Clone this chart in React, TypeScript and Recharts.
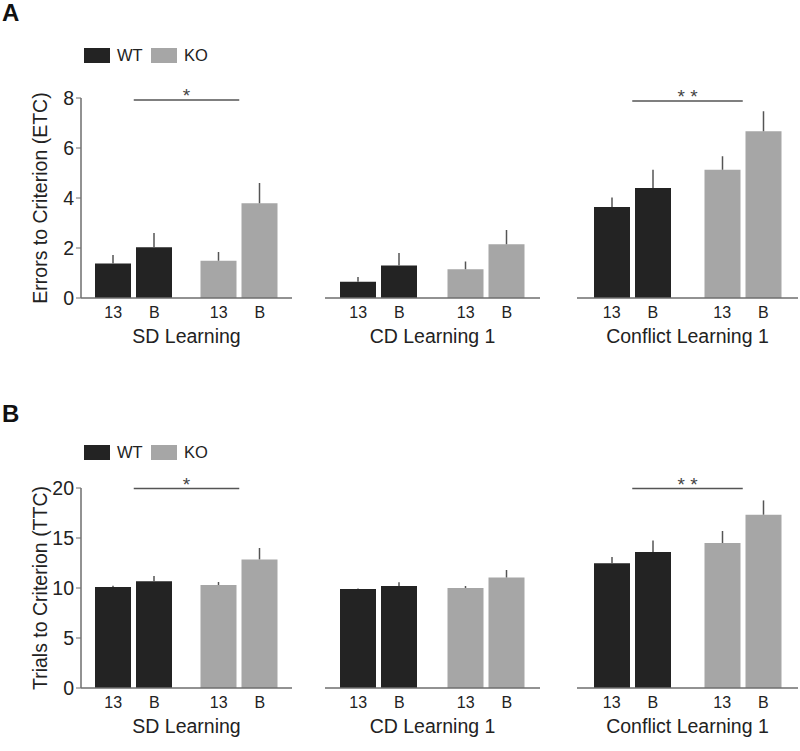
import { BarChart, Bar, XAxis, YAxis, Cell, ErrorBar, ReferenceLine, Label } from "recharts";

const FONT = '"Liberation Sans", Arial, sans-serif';
const WT_COLOR = "#232323";
const KO_COLOR = "#a6a6a6";
const AXIS_COLOR = "#6e6e6e";
const ERR_COLOR = "#555555";
const TEXT_COLOR = "#222222";

const BAR_SIZE = 36;
const BAR_GAP = 5;

const groups = ["WT", "KO"];
const groupColors = [WT_COLOR, KO_COLOR];

// Panel A: errors to criterion (ETC), [WT, KO]
const etcSD13 = [1.38, 1.49];
const etcSDB = [2.03, 3.79];
const etcSD13Err = [0.34, 0.35];
const etcSDBErr = [0.57, 0.81];

const etcCD13 = [0.65, 1.15];
const etcCDB = [1.3, 2.15];
const etcCD13Err = [0.19, 0.31];
const etcCDBErr = [0.5, 0.57];

const etcCF13 = [3.64, 5.13];
const etcCFB = [4.4, 6.67];
const etcCF13Err = [0.38, 0.54];
const etcCFBErr = [0.73, 0.8];

const etcTicks = [0, 2, 4, 6, 8];

// Panel B: trials to criterion (TTC), [WT, KO]
const ttcSD13 = [10.1, 10.3];
const ttcSDB = [10.67, 12.86];
const ttcSD13Err = [0.12, 0.3];
const ttcSDBErr = [0.53, 1.14];

const ttcCD13 = [9.9, 10.0];
const ttcCDB = [10.2, 11.05];
const ttcCD13Err = [0.05, 0.2];
const ttcCDBErr = [0.37, 0.75];

const ttcCF13 = [12.48, 14.5];
const ttcCFB = [13.6, 17.33];
const ttcCF13Err = [0.62, 1.2];
const ttcCFBErr = [1.16, 1.43];

const ttcTicks = [0, 5, 10, 15, 20];

function PairTick({ x, y }: any) {
  const d = (BAR_SIZE + BAR_GAP) / 2;
  return (
    <g>
      <text x={x - d} y={y + 19.5} textAnchor="middle" fontSize={16} fill={TEXT_COLOR} fontFamily={FONT}>
        13
      </text>
      <text x={x + d} y={y + 19.5} textAnchor="middle" fontSize={16} fill={TEXT_COLOR} fontFamily={FONT}>
        B
      </text>
    </g>
  );
}

function Subplot({
  left,
  top,
  width,
  means13,
  meansB,
  err13,
  errB,
  ticks,
  title,
  yLabel,
  sig,
}: any) {
  const data = groups.map((g, i) => ({
    group: g,
    v13: means13[i],
    vB: meansB[i],
    e13: [0, err13[i]],
    eB: [0, errB[i]],
  }));
  const max = ticks[ticks.length - 1];
  const showY = !!yLabel;

  return (
    <div style={{ position: "absolute", left, top }}>
      <BarChart
        width={width}
        height={298}
        data={data}
        margin={{ top: 38, right: showY ? 8 : 0, left: 0, bottom: 0 }}
        barSize={BAR_SIZE}
        barGap={BAR_GAP}
      >
        <XAxis
          dataKey="group"
          axisLine={{ stroke: AXIS_COLOR, strokeWidth: 1.5 }}
          tickLine={false}
          tickSize={0}
          tickMargin={0}
          interval={0}
          height={60}
          tick={<PairTick />}
        >
          <Label
            content={({ viewBox }: any) => (
              <text
                x={viewBox.x + viewBox.width / 2}
                y={viewBox.y + 44.5}
                textAnchor="middle"
                fontSize={19.5}
                fill={TEXT_COLOR}
                fontFamily={FONT}
              >
                {title}
              </text>
            )}
          />
        </XAxis>
        {showY ? (
          <YAxis
            width={81}
            domain={[0, max]}
            ticks={ticks}
            allowDataOverflow
            axisLine={{ stroke: AXIS_COLOR, strokeWidth: 1.5 }}
            tickLine={{ stroke: AXIS_COLOR }}
            tickSize={5}
            tickMargin={2}
            tick={{ fontSize: 19.5, fill: TEXT_COLOR, fontFamily: FONT }}
          >
            <Label
              content={({ viewBox }: any) => {
                const cx = 40;
                const cy = viewBox.y + viewBox.height / 2;
                return (
                  <text
                    x={cx}
                    y={cy}
                    dy="0.36em"
                    textAnchor="middle"
                    transform={`rotate(-90, ${cx}, ${cy})`}
                    fontSize={19.5}
                    fill={TEXT_COLOR}
                    fontFamily={FONT}
                  >
                    {yLabel}
                  </text>
                );
              }}
            />
          </YAxis>
        ) : (
          <YAxis hide domain={[0, max]} ticks={ticks} allowDataOverflow />
        )}
        <Bar dataKey="v13" isAnimationActive={false}>
          {data.map((d, i) => (
            <Cell key={d.group} fill={groupColors[i]} />
          ))}
          <ErrorBar dataKey="e13" width={0} stroke={ERR_COLOR} strokeWidth={1.5} direction="y" isAnimationActive={false} />
        </Bar>
        <Bar dataKey="vB" isAnimationActive={false}>
          {data.map((d, i) => (
            <Cell key={d.group} fill={groupColors[i]} />
          ))}
          <ErrorBar dataKey="eB" width={0} stroke={ERR_COLOR} strokeWidth={1.5} direction="y" isAnimationActive={false} />
        </Bar>
        {sig && (
          <ReferenceLine
            segment={[
              { x: "WT", y: sig.y },
              { x: "KO", y: sig.y },
            ]}
            stroke={ERR_COLOR}
            strokeWidth={1.5}
            label={({ viewBox }: any) => (
              <text
                x={viewBox.x + viewBox.width / 2}
                y={viewBox.y + 2}
                textAnchor="middle"
                fontSize={19}
                fill="#444"
                fontFamily={FONT}
              >
                {sig.stars}
              </text>
            )}
          />
        )}
      </BarChart>
    </div>
  );
}

function LegendRow({ top }: { top: number }) {
  const item = (left: number, color: string, label: string) => (
    <>
      <div style={{ position: "absolute", left, top, width: 26, height: 15, background: color }} />
      <div
        style={{
          position: "absolute",
          left: left + 33,
          top: top - 2,
          fontSize: 16.5,
          lineHeight: "19px",
          color: TEXT_COLOR,
          fontFamily: FONT,
        }}
      >
        {label}
      </div>
    </>
  );
  return (
    <>
      {item(84, WT_COLOR, "WT")}
      {item(151, KO_COLOR, "KO")}
    </>
  );
}

function PanelLetter({ top, text }: { top: number; text: string }) {
  return (
    <div
      style={{
        position: "absolute",
        left: 2,
        top,
        fontSize: 24,
        fontWeight: "bold",
        lineHeight: "28px",
        color: "#111",
        fontFamily: FONT,
      }}
    >
      {text}
    </div>
  );
}

export default function App() {
  const topA = 60;
  const topB = 450;
  return (
    <div style={{ position: "absolute", left: 0, top: 0, width: 800, height: 751, background: "#fff" }}>
      <PanelLetter top={-1} text="A" />
      <LegendRow top={48} />
      <Subplot
        left={0}
        top={topA}
        width={300}
        means13={etcSD13}
        meansB={etcSDB}
        err13={etcSD13Err}
        errB={etcSDBErr}
        ticks={etcTicks}
        title="SD Learning"
        yLabel="Errors to Criterion (ETC)"
        sig={{ y: 7.92, stars: "*" }}
      />
      <Subplot
        left={325}
        top={topA}
        width={215}
        means13={etcCD13}
        meansB={etcCDB}
        err13={etcCD13Err}
        errB={etcCDBErr}
        ticks={etcTicks}
        title="CD Learning 1"
      />
      <Subplot
        left={577}
        top={topA}
        width={221}
        means13={etcCF13}
        meansB={etcCFB}
        err13={etcCF13Err}
        errB={etcCFBErr}
        ticks={etcTicks}
        title="Conflict Learning 1"
        sig={{ y: 7.88, stars: "* *" }}
      />

      <PanelLetter top={400} text="B" />
      <LegendRow top={445} />
      <Subplot
        left={0}
        top={topB}
        width={300}
        means13={ttcSD13}
        meansB={ttcSDB}
        err13={ttcSD13Err}
        errB={ttcSDBErr}
        ticks={ttcTicks}
        title="SD Learning"
        yLabel="Trials to Criterion (TTC)"
        sig={{ y: 19.95, stars: "*" }}
      />
      <Subplot
        left={325}
        top={topB}
        width={215}
        means13={ttcCD13}
        meansB={ttcCDB}
        err13={ttcCD13Err}
        errB={ttcCDBErr}
        ticks={ttcTicks}
        title="CD Learning 1"
      />
      <Subplot
        left={577}
        top={topB}
        width={221}
        means13={ttcCF13}
        meansB={ttcCFB}
        err13={ttcCF13Err}
        errB={ttcCFBErr}
        ticks={ttcTicks}
        title="Conflict Learning 1"
        sig={{ y: 19.95, stars: "* *" }}
      />
    </div>
  );
}
